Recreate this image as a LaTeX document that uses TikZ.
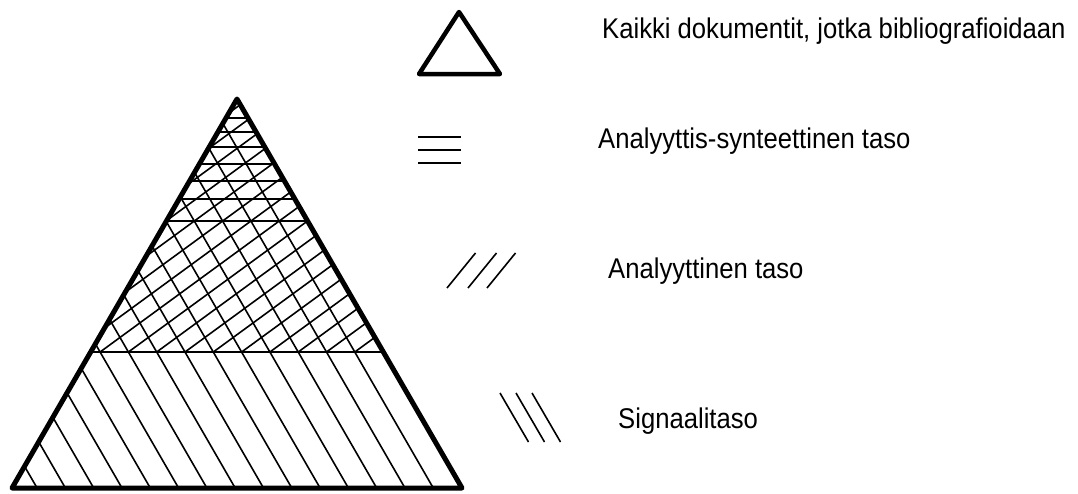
\documentclass[tikz,border=0pt]{standalone}
\usepackage{fontspec}
\setmainfont[FakeStretch=0.9]{Liberation Sans}
\begin{document}
\begin{tikzpicture}[x=1pt,y=-1pt,
  frame/.style={line width=5pt,line join=round,line cap=round},
  hatch/.style={line width=1.6pt},
  legendline/.style={line width=1.6pt},
  label/.style={anchor=base west,inner sep=0pt,font=\fontsize{28.5}{33}\selectfont}]
\useasboundingbox (0,0) rectangle (1078,493);
% main triangle corners
\coordinate (A) at (237,99);
\coordinate (L) at (12,488);
\coordinate (R) at (462,488);
% hatching
\begin{scope}
  \clip (A) -- (L) -- (R) -- cycle;
  % signal level: \ lines over the whole triangle
  \foreach \k in {-12,...,12}{
    \pgfmathsetmacro{\xk}{185+28.3*\k}
    \draw[hatch] ({\xk-157},80) -- ({\xk+85.4},500);
  }
  % analytic level: / lines above y=352
  \begin{scope}
    \clip (0,60) rectangle (500,352);
    \foreach \k in {-20,...,12}{
      \pgfmathsetmacro{\xk}{185+28.3*\k}
      \draw[hatch] (\xk,352) -- ({\xk+372},80);
    }
  \end{scope}
  % analytic-synthetic level: horizontal lines
  \foreach \y in {118,132,147,164,181,199,221}{
    \draw[hatch] (0,\y) -- (500,\y);
  }
  \draw[hatch] (0,352) -- (500,352);
\end{scope}
\draw[frame] (A) -- (L) -- (R) -- cycle;
% legend symbols
\draw[frame,line width=4.5pt] (459,12) -- (419,74) -- (500,74) -- cycle;
\foreach \y in {137,150,163}{
  \draw[legendline] (418,\y) -- (461,\y);
}
\foreach \x in {447,468,487}{
  \draw[legendline] (\x,288) -- ({\x+28.5},253);
}
\foreach \x in {500,516,532}{
  \draw[legendline] (\x,393) -- ({\x+28.5},442);
}
% labels
\node[label] (t1) at (602,38) {Kaikki dokumentit, jotka bibliografioidaan};
\node[label] (t2) at (598,148) {Analyyttis-synteettinen taso};
\node[label] (t3) at (608,278) {Analyyttinen taso};
\node[label] (t4) at (618,428) {Signaalitaso};
\end{tikzpicture}
\end{document}
